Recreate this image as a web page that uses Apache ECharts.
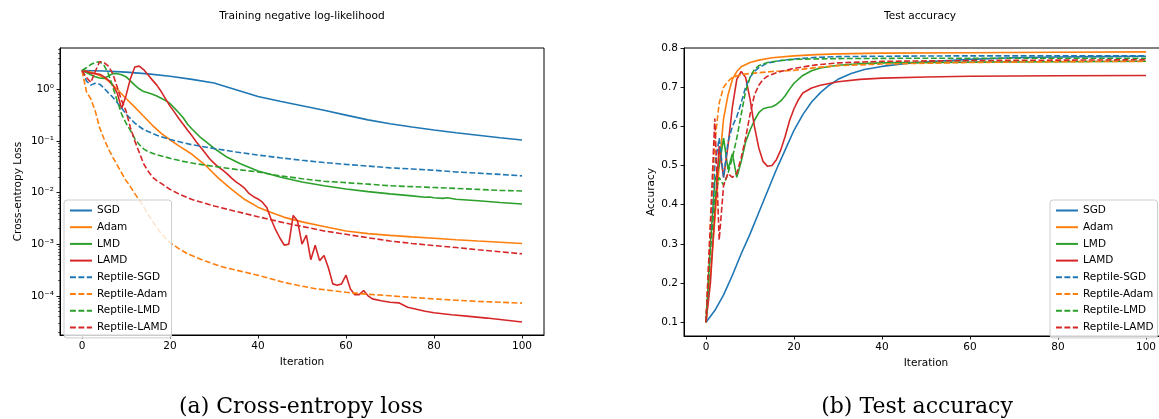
<!DOCTYPE html>
<html>
<head>
<meta charset="utf-8">
<script src="https://cdn.jsdelivr.net/npm/echarts@6/dist/echarts.min.js"></script>
<style>
  html, body { margin: 0; padding: 0; background: #fff; }
  #c { width: 1159px; height: 419px; }
</style>
</head>
<body>
<div id="c"></div>
<script>
// ---------- DATA ----------
const seriesNames = ['SGD', 'Adam', 'LMD', 'LAMD', 'Reptile-SGD', 'Reptile-Adam', 'Reptile-LMD', 'Reptile-LAMD'];
const xTickValues = [0, 20, 40, 60, 80, 100];
const lossTickValues = [1e-4, 1e-3, 1e-2, 1e-1, 1];
const accTickValues = [0.1, 0.2, 0.3, 0.4, 0.5, 0.6, 0.7, 0.8];

// Training negative log-likelihood: [iteration, loss]
const lossSGD = [[0,2.3],[5,2.25],[10,2.14],[15,1.98],[20,1.78],[25,1.55],[30,1.32],[35,0.98],[40,0.72],[45,0.585],[50,0.48],[55,0.39],[60,0.315],[65,0.255],[70,0.215],[75,0.185],[80,0.162],[85,0.143],[90,0.128],[95,0.115],[100,0.104]];
const lossAdam = [[0,2.3],[2,2.15],[4,1.85],[6,1.45],[8,1.0],[10,0.66],[12,0.45],[14,0.3],[16,0.2],[18,0.14],[20,0.105],[22,0.08],[25,0.055],[28,0.034],[31,0.019],[34,0.0115],[37,0.0073],[40,0.0052],[43,0.0041],[46,0.0033],[50,0.0027],[55,0.0022],[60,0.0018],[65,0.0016],[70,0.00148],[75,0.00138],[80,0.0013],[85,0.00122],[90,0.00115],[95,0.00109],[100,0.00103]];
const lossLMD = [[0,2.3],[1,2.1],[2,1.9],[3,1.75],[4,1.65],[5,1.62],[6,1.8],[7,2.0],[8,2.0],[9,1.9],[10,1.75],[11,1.45],[12,1.2],[13,1.02],[14,0.9],[15,0.85],[16,0.8],[17,0.74],[18,0.67],[19,0.6],[20,0.53],[21,0.43],[22,0.35],[23,0.28],[24,0.21],[25,0.17],[27,0.115],[30,0.072],[33,0.048],[36,0.036],[40,0.026],[45,0.02],[50,0.016],[55,0.0135],[60,0.0117],[65,0.0104],[70,0.0094],[75,0.0086],[78,0.0081],[79,0.0082],[80,0.0079],[82,0.0077],[83,0.0079],[85,0.0074],[90,0.0069],[95,0.0064],[100,0.006]];
const lossLAMD = [[0,2.3],[1,2.2],[2,2.05],[3,2.0],[4,1.95],[5,1.75],[6,1.5],[7,1.2],[8,0.85],[9,0.42],[10,0.75],[11,1.6],[12,2.7],[13,2.8],[14,2.4],[15,1.9],[16,1.5],[17,1.2],[18,0.9],[19,0.65],[20,0.47],[21,0.36],[22,0.27],[23,0.21],[24,0.16],[25,0.125],[26,0.095],[27,0.074],[28,0.058],[29,0.045],[30,0.037],[31,0.031],[32,0.027],[33,0.023],[34,0.019],[35,0.016],[36,0.014],[37,0.012],[38,0.0095],[39,0.0083],[40,0.0075],[41,0.0065],[42,0.0051],[43,0.003],[44,0.0019],[45,0.0013],[46,0.00095],[47,0.001],[48,0.0036],[49,0.0028],[50,0.001],[51,0.0015],[52,0.0005],[53,0.00095],[54,0.00048],[55,0.0006],[56,0.00035],[57,0.00017],[58,0.00016],[59,0.00017],[60,0.00025],[61,0.000135],[62,0.000105],[63,0.000105],[64,0.000126],[65,0.0001],[66,0.000087],[68,0.00008],[70,0.000075],[72,0.000073],[74,0.00006],[76,0.000055],[78,0.00005],[80,0.000047],[84,0.000043],[88,0.00004],[92,0.000037],[96,0.000034],[100,0.000031]];
const lossRSGD = [[0,2.3],[1,1.45],[2,1.2],[3,1.3],[4,1.25],[5,1.05],[6,0.85],[7,0.7],[8,0.55],[9,0.43],[10,0.33],[11,0.27],[12,0.22],[14,0.165],[17,0.128],[20,0.106],[25,0.084],[30,0.071],[35,0.061],[40,0.053],[45,0.047],[50,0.042],[55,0.038],[60,0.035],[65,0.0325],[70,0.03],[75,0.0285],[80,0.027],[85,0.025],[90,0.0237],[95,0.0224],[100,0.021]];
const lossRAdam = [[0,2.3],[1,0.9],[2,0.65],[3,0.38],[4,0.18],[5,0.11],[6,0.07],[7,0.048],[8,0.034],[9,0.024],[10,0.017],[11,0.013],[12,0.0095],[13,0.0072],[14,0.0053],[15,0.0038],[16,0.0028],[17,0.0021],[18,0.0016],[19,0.0013],[20,0.00107],[22,0.00082],[24,0.00065],[28,0.00047],[32,0.00036],[36,0.0003],[40,0.00025],[46,0.00018],[53,0.000137],[60,0.000117],[65,0.000107],[70,0.0001],[75,0.000093],[80,0.000087],[85,0.000082],[90,0.000078],[95,0.000075],[100,0.000072]];
const lossRLMD = [[0,2.3],[1,2.6],[2,3.0],[3,3.3],[4,3.4],[5,2.9],[6,2.0],[7,1.1],[8,0.6],[9,0.33],[10,0.22],[11,0.16],[12,0.11],[13,0.085],[14,0.07],[15,0.062],[17,0.054],[20,0.046],[23,0.04],[26,0.036],[30,0.032],[35,0.028],[40,0.025],[45,0.021],[50,0.0185],[55,0.0165],[60,0.0155],[65,0.0145],[70,0.0135],[75,0.013],[80,0.0125],[85,0.012],[90,0.0115],[95,0.011],[100,0.0107]];
const lossRLAMD = [[0,2.3],[1,1.7],[2,1.35],[3,2.2],[4,3.4],[5,3.3],[6,2.8],[7,2.0],[8,1.1],[9,0.6],[10,0.38],[11,0.18],[12,0.1],[13,0.06],[14,0.036],[15,0.026],[16,0.02],[17,0.017],[18,0.015],[20,0.0115],[22,0.0094],[25,0.0073],[30,0.0055],[35,0.0043],[40,0.0034],[45,0.0027],[50,0.0022],[55,0.0018],[60,0.00155],[65,0.00133],[70,0.00115],[75,0.00103],[80,0.00094],[85,0.00086],[90,0.00078],[95,0.00071],[100,0.00065]];

// Test accuracy: [iteration, accuracy]
const accSGD = [[0,0.1],[2,0.13],[4,0.17],[6,0.22],[8,0.275],[10,0.325],[12,0.38],[14,0.435],[16,0.49],[18,0.54],[20,0.59],[22,0.63],[24,0.662],[26,0.686],[28,0.705],[30,0.72],[33,0.735],[36,0.745],[40,0.753],[45,0.76],[50,0.765],[60,0.771],[70,0.775],[80,0.777],[90,0.778],[100,0.779]];
const accAdam = [[0,0.1],[1,0.22],[2,0.36],[3,0.5],[4,0.62],[5,0.68],[6,0.72],[7,0.74],[8,0.752],[10,0.763],[12,0.769],[15,0.775],[20,0.78],[25,0.783],[30,0.785],[40,0.787],[60,0.788],[80,0.789],[100,0.79]];
const accLMD = [[0,0.1],[1,0.3],[2,0.46],[3,0.5],[4,0.57],[5,0.49],[6,0.53],[7,0.47],[8,0.51],[9,0.56],[10,0.59],[11,0.615],[12,0.635],[13,0.645],[14,0.648],[15,0.65],[16,0.656],[17,0.665],[18,0.678],[19,0.695],[20,0.71],[22,0.73],[24,0.742],[26,0.749],[30,0.756],[35,0.76],[40,0.762],[60,0.764],[80,0.765],[100,0.766]];
const accLAMD = [[0,0.1],[1,0.2],[2,0.38],[3,0.55],[4,0.47],[5,0.55],[6,0.65],[7,0.72],[8,0.74],[9,0.725],[10,0.67],[11,0.6],[12,0.545],[13,0.51],[14,0.498],[15,0.5],[16,0.515],[17,0.54],[18,0.575],[19,0.615],[20,0.645],[21,0.668],[22,0.685],[24,0.698],[26,0.705],[30,0.714],[35,0.72],[40,0.723],[50,0.726],[60,0.728],[80,0.729],[100,0.73]];
const accRSGD = [[0,0.1],[1,0.3],[2,0.5],[3,0.57],[4,0.47],[5,0.56],[6,0.6],[7,0.625],[8,0.66],[9,0.7],[10,0.725],[11,0.74],[12,0.75],[14,0.762],[17,0.768],[20,0.772],[25,0.776],[30,0.778],[40,0.779],[60,0.78],[80,0.78],[100,0.78]];
const accRAdam = [[0,0.1],[1,0.35],[2,0.56],[3,0.66],[4,0.7],[5,0.715],[6,0.725],[8,0.732],[10,0.735],[15,0.74],[20,0.743],[25,0.75],[30,0.755],[40,0.759],[60,0.763],[80,0.765],[100,0.766]];
const accRLMD = [[0,0.1],[1,0.28],[2,0.42],[3,0.47],[4,0.45],[5,0.48],[6,0.52],[7,0.57],[8,0.63],[9,0.69],[10,0.725],[11,0.745],[12,0.755],[14,0.763],[17,0.768],[20,0.771],[30,0.773],[50,0.774],[100,0.774]];
const accRLAMD = [[0,0.1],[1,0.35],[2,0.62],[3,0.31],[4,0.45],[5,0.48],[6,0.47],[7,0.48],[8,0.52],[9,0.57],[10,0.63],[11,0.68],[12,0.705],[13,0.72],[14,0.728],[16,0.737],[18,0.743],[20,0.748],[25,0.757],[30,0.762],[40,0.766],[60,0.768],[80,0.769],[100,0.77]];

// ---------- STYLE ----------
const FONT = 'DejaVu Sans';
const colorOf = ['#1f77b4', '#ff7f0e', '#2ca02c', '#d62728', '#1f77b4', '#ff7f0e', '#2ca02c', '#d62728'];
const lossSets = [lossSGD, lossAdam, lossLMD, lossLAMD, lossRSGD, lossRAdam, lossRLMD, lossRLAMD];
const accSets = [accSGD, accAdam, accLMD, accLAMD, accRSGD, accRAdam, accRLMD, accRLAMD];

const LOSS_MIN = 1.74e-5, LOSS_MAX = 6.28;
const minorLossTicks = [];
for (let e = -5; e <= 0; e++) for (let m = 2; m <= 9; m++) {
  const v = m * Math.pow(10, e);
  if (v > LOSS_MIN && v < LOSS_MAX) minorLossTicks.push(v);
}
const supMap = {'0':'\u2070','1':'\u00b9','2':'\u00b2','3':'\u00b3','4':'\u2074','5':'\u2075','6':'\u2076','7':'\u2077','8':'\u2078','9':'\u2079','-':'\u207b'};
function pow10Label(v) {
  const e = Math.round(Math.log10(v));
  return '10' + String(e).split('').map(c => supMap[c]).join('');
}

const txt = { fontFamily: FONT, fontSize: 10.5, color: '#000' };

function lineSeries(i, data, xi, yi) {
  const dashed = i >= 4;
  return {
    name: seriesNames[i], type: 'line', data: data,
    xAxisIndex: xi, yAxisIndex: yi,
    symbol: 'none', showSymbol: false, smooth: false, clip: true,
    lineStyle: { color: colorOf[i], width: 1.6, type: dashed ? [5.9, 2.5] : 'solid' },
    itemStyle: { color: colorOf[i] },
    emphasis: { disabled: true },
    animation: false
  };
}

function xAxisDef(grid) {
  return {
    gridIndex: grid, type: 'value', min: -5, max: 105,
    name: 'Iteration', nameLocation: 'middle', nameGap: 21, nameTextStyle: txt,
    axisLine: { show: true, onZero: false, lineStyle: { color: '#000', width: 1 } },
    axisTick: { show: true, customValues: xTickValues, length: 3.5, lineStyle: { color: '#000', width: 0.9 } },
    axisLabel: { customValues: xTickValues, margin: 6, ...txt },
    splitLine: { show: false }
  };
}

const legendBase = {
  data: seriesNames, orient: 'vertical', top: 200,
  itemWidth: 22, itemHeight: 10, itemGap: 5.7, itemTextGap: 8,
  padding: [5, 4, 5, 5],
  backgroundColor: 'rgba(255,255,255,0.8)', borderColor: '#cccccc', borderWidth: 1, borderRadius: 3,
  textStyle: { fontFamily: FONT, fontSize: 10.5, color: '#000', lineHeight: 10 },
  itemStyle: { opacity: 0, borderWidth: 0 },
  selectedMode: false
};

const series = [];
lossSets.forEach((d, i) => series.push(lineSeries(i, d, 0, 0)));
accSets.forEach((d, i) => series.push(lineSeries(i, d, 1, 2)));

const option = {
  animation: false,
  backgroundColor: '#fff',
  grid: [
    { left: 60, top: 48, width: 484, height: 287, outerBoundsMode: 'none', containLabel: false, show: true, borderColor: '#000', borderWidth: 1, backgroundColor: 'transparent' },
    { left: 684, top: 48, width: 484, height: 288, outerBoundsMode: 'none', containLabel: false, show: true, borderColor: '#000', borderWidth: 1, backgroundColor: 'transparent' }
  ],
  xAxis: [xAxisDef(0), xAxisDef(1)],
  yAxis: [
    {
      gridIndex: 0, type: 'log', logBase: 10, min: LOSS_MIN, max: LOSS_MAX, position: 'left',
      name: 'Cross-entropy Loss', nameLocation: 'middle', nameGap: 36, nameTextStyle: txt,
      axisLine: { show: true, onZero: false, lineStyle: { color: '#000', width: 1 } },
      axisTick: { show: true, customValues: lossTickValues, length: 3.5, lineStyle: { color: '#000', width: 0.9 } },
      axisLabel: { customValues: lossTickValues, margin: 6, formatter: pow10Label, ...txt },
      splitLine: { show: false }
    },
    {
      gridIndex: 0, type: 'log', logBase: 10, min: LOSS_MIN, max: LOSS_MAX, position: 'left',
      axisLine: { show: false, onZero: false },
      axisTick: { show: true, customValues: minorLossTicks, length: 2, lineStyle: { color: '#000', width: 0.6 } },
      axisLabel: { show: false },
      splitLine: { show: false }
    },
    {
      gridIndex: 1, type: 'value', min: 0.065, max: 0.8, position: 'left',
      name: 'Accuracy', nameLocation: 'middle', nameGap: 27, nameTextStyle: txt,
      axisLine: { show: true, onZero: false, lineStyle: { color: '#000', width: 1 } },
      axisTick: { show: true, customValues: accTickValues, length: 3.5, lineStyle: { color: '#000', width: 0.9 } },
      axisLabel: { customValues: accTickValues, margin: 6, formatter: v => v.toFixed(1), ...txt },
      splitLine: { show: false }
    }
  ],
  legend: [
    Object.assign({}, legendBase, { left: 64 }),
    Object.assign({}, legendBase, { left: 1050 })
  ],
  graphic: [
    { type: 'text', x: 302, y: 16, style: { text: 'Training negative log-likelihood', textAlign: 'center', textVerticalAlign: 'middle', fontFamily: FONT, fontSize: 10.6, fill: '#000' } },
    { type: 'text', x: 920, y: 16, style: { text: 'Test accuracy', textAlign: 'center', textVerticalAlign: 'middle', fontFamily: FONT, fontSize: 10.6, fill: '#000' } },
    { type: 'text', x: 301, y: 407, style: { text: '(a) Cross-entropy loss', textAlign: 'center', textVerticalAlign: 'middle', fontFamily: 'DejaVu Serif', fontSize: 22, fill: '#000' } },
    { type: 'text', x: 917, y: 407, style: { text: '(b) Test accuracy', textAlign: 'center', textVerticalAlign: 'middle', fontFamily: 'DejaVu Serif', fontSize: 22, fill: '#000' } }
  ],
  series: series
};

const chart = echarts.init(document.getElementById('c'), null, { renderer: 'canvas', width: 1159, height: 419 });
chart.setOption(option);
</script>
</body>
</html>
